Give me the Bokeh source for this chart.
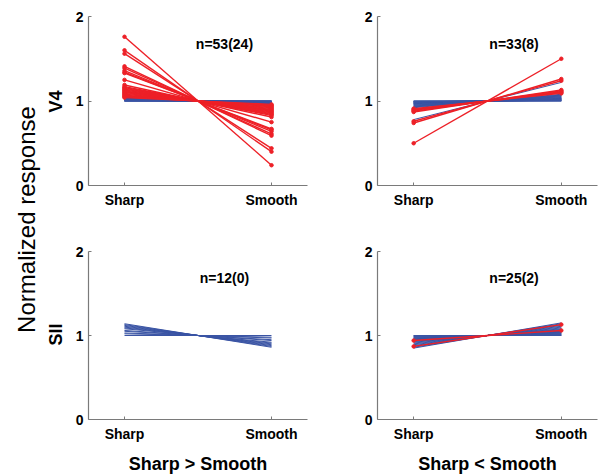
import math
from bokeh.plotting import figure
from bokeh.layouts import row, column
from bokeh.models import Range1d, FixedTicker, Label
from bokeh.embed import file_html
from bokeh.resources import INLINE

# ---------------- data ----------------
conditions = ["Sharp", "Smooth"]
cond_pos = [1, 2]
y_ticks = [0, 1, 2]
areas = ["V4", "SII"]
group_labels = ["Sharp > Smooth", "Sharp < Smooth"]
n_labels = ["n=53(24)", "n=33(8)", "n=12(0)", "n=25(2)"]

# V4, Sharp > Smooth
v4_pref_sharp_red_sharp = [1.76, 1.60, 1.56, 1.41, 1.39, 1.36, 1.34, 1.33, 1.25, 1.19, 1.17, 1.16,
                           1.15, 1.14, 1.13, 1.12, 1.11, 1.10, 1.09, 1.08, 1.07, 1.06, 1.05, 1.04]
v4_pref_sharp_red_smooth = [0.24, 0.40, 0.44, 0.59, 0.61, 0.64, 0.66, 0.67, 0.75, 0.81, 0.83, 0.84,
                            0.85, 0.86, 0.87, 0.88, 0.89, 0.90, 0.91, 0.92, 0.93, 0.94, 0.95, 0.96]
v4_pref_sharp_blue_sharp = [1.11, 1.06, 1.05, 1.045, 1.04, 1.035, 1.03, 1.03, 1.025, 1.025,
                            1.02, 1.02, 1.02, 1.015, 1.015, 1.01, 1.01, 1.01, 1.008, 1.005,
                            1.005, 1.003, 1.002, 1.0, 1.0, 1.0, 1.028, 1.018, 1.012]
v4_pref_sharp_blue_smooth = [0.89, 0.94, 0.95, 0.955, 0.96, 0.965, 0.97, 0.97, 0.975, 0.975,
                             0.98, 0.98, 0.98, 0.985, 0.985, 0.99, 0.99, 0.99, 0.992, 0.995,
                             0.995, 0.997, 0.998, 1.0, 1.0, 1.0, 0.972, 0.982, 0.988]

# V4, Sharp < Smooth
v4_pref_smooth_red_sharp = [0.50, 0.74, 0.76, 0.87, 0.88, 0.89, 0.90, 0.91]
v4_pref_smooth_red_smooth = [1.50, 1.26, 1.24, 1.13, 1.12, 1.11, 1.10, 1.09]
v4_pref_smooth_blue_sharp = [0.78, 0.90, 0.92, 0.93, 0.94, 0.95, 0.95, 0.96, 0.96, 0.97, 0.97, 0.97,
                             0.98, 0.98, 0.98, 0.985, 0.99, 0.99, 0.99, 0.995, 0.995, 1.0, 1.0, 0.93, 0.94]
v4_pref_smooth_blue_smooth = [1.22, 1.10, 1.08, 1.07, 1.06, 1.05, 1.05, 1.04, 1.04, 1.03, 1.03, 1.03,
                              1.02, 1.02, 1.02, 1.015, 1.01, 1.01, 1.01, 1.005, 1.005, 1.0, 1.0, 1.07, 1.06]

# SII, Sharp > Smooth
sii_pref_sharp_red_sharp = []
sii_pref_sharp_red_smooth = []
sii_pref_sharp_blue_sharp = [1.14, 1.13, 1.12, 1.11, 1.10, 1.09, 1.08, 1.06, 1.05, 1.03, 1.02, 1.00]
sii_pref_sharp_blue_smooth = [0.86, 0.87, 0.88, 0.89, 0.90, 0.91, 0.92, 0.94, 0.95, 0.97, 0.98, 1.00]

# SII, Sharp < Smooth
sii_pref_smooth_red_sharp = [0.87, 0.94]
sii_pref_smooth_red_smooth = [1.13, 1.06]
sii_pref_smooth_blue_sharp = [0.85, 0.86, 0.87, 0.88, 0.89, 0.90, 0.91, 0.92, 0.93, 0.94, 0.95, 0.96,
                              0.96, 0.97, 0.97, 0.98, 0.98, 0.99, 0.99, 1.0, 1.0, 0.95, 0.93]
sii_pref_smooth_blue_smooth = [1.15, 1.14, 1.13, 1.12, 1.11, 1.10, 1.09, 1.08, 1.07, 1.06, 1.05, 1.04,
                               1.04, 1.03, 1.03, 1.02, 1.02, 1.01, 1.01, 1.0, 1.0, 1.05, 1.07]

# ---------------- style ----------------
RED = "#ED2027"
BLUE = "#3A54A4"
AXIS = "#7a7a7a"
FONT = "Liberation Sans"
LEFT_W = 72


def make_panel(blue_s, blue_m, red_s, red_m, ntext, frame_w, frame_h,
               b_left, b_right, b_top, b_bottom, xlabel=None):
    p = figure(frame_width=frame_w, frame_height=frame_h,
               x_range=Range1d(0.755, 2.245), y_range=Range1d(0, 2),
               output_backend="svg", toolbar_location=None,
               min_border_left=b_left, min_border_right=b_right,
               min_border_top=b_top, min_border_bottom=b_bottom)
    p.outline_line_color = None
    p.xgrid.visible = False
    p.ygrid.visible = False
    p.background_fill_color = "white"
    p.border_fill_color = "white"

    if blue_s:
        p.multi_line(xs=[list(cond_pos) for _ in blue_s],
                     ys=[[a, b] for a, b in zip(blue_s, blue_m)],
                     line_color=BLUE, line_width=1.0)
    if red_s:
        p.multi_line(xs=[list(cond_pos) for _ in red_s],
                     ys=[[a, b] for a, b in zip(red_s, red_m)],
                     line_color=RED, line_width=1.4)
        p.scatter(x=[cond_pos[0]] * len(red_s) + [cond_pos[1]] * len(red_m),
                  y=list(red_s) + list(red_m), size=3.5,
                  fill_color=RED, line_color=RED)

    p.add_layout(Label(x=1.68, y=1.68, text=ntext, text_font=FONT,
                       text_font_style="bold", text_font_size="14px",
                       text_align="center", text_baseline="middle",
                       text_color="black"))

    for ax in (p.xaxis[0], p.yaxis[0]):
        ax.axis_line_color = AXIS
        ax.axis_line_width = 1.2
        ax.major_tick_line_color = AXIS
        ax.major_tick_in = 3
        ax.major_tick_out = 0
        ax.minor_tick_line_color = None
        ax.major_label_text_font = FONT
        ax.major_label_text_font_style = "bold"
        ax.major_label_text_font_size = "14px"
        ax.major_label_text_color = "black"

    p.xaxis.ticker = FixedTicker(ticks=cond_pos)
    p.xaxis.major_label_overrides = {cond_pos[0]: conditions[0], cond_pos[1]: conditions[1]}
    p.xaxis.major_label_standoff = 6
    p.yaxis.ticker = FixedTicker(ticks=y_ticks)
    p.yaxis.major_label_standoff = 5

    if xlabel:
        p.xaxis.axis_label = xlabel
        p.xaxis.axis_label_text_font = FONT
        p.xaxis.axis_label_text_font_style = "bold"
        p.xaxis.axis_label_text_font_size = "18px"
        p.xaxis.axis_label_text_color = "black"
        p.xaxis.axis_label_standoff = 9
    return p


p1 = make_panel(v4_pref_sharp_blue_sharp, v4_pref_sharp_blue_smooth,
                v4_pref_sharp_red_sharp, v4_pref_sharp_red_smooth, n_labels[0],
                219, 169, 87 - LEFT_W, 24, 16, 45)
p2 = make_panel(v4_pref_smooth_blue_sharp, v4_pref_smooth_blue_smooth,
                v4_pref_smooth_red_sharp, v4_pref_smooth_red_smooth, n_labels[1],
                220, 169, 46, 3, 16, 45)
p3 = make_panel(sii_pref_sharp_blue_sharp, sii_pref_sharp_blue_smooth,
                sii_pref_sharp_red_sharp, sii_pref_sharp_red_smooth, n_labels[2],
                219, 168, 87 - LEFT_W, 24, 21, 55, xlabel=group_labels[0])
p4 = make_panel(sii_pref_smooth_blue_sharp, sii_pref_smooth_blue_smooth,
                sii_pref_smooth_red_sharp, sii_pref_smooth_red_smooth, n_labels[3],
                220, 168, 46, 3, 21, 55, xlabel=group_labels[1])

# left strip with the shared labels
left = figure(width=LEFT_W, height=474, x_range=Range1d(0, LEFT_W), y_range=Range1d(0, 474),
              output_backend="svg", toolbar_location=None,
              min_border_left=0, min_border_right=0, min_border_top=0, min_border_bottom=0)
left.axis.visible = False
left.grid.visible = False
left.outline_line_color = None
left.border_fill_color = "white"
left.background_fill_color = "white"
left.add_layout(Label(x=26, y=474 - 219, text="Normalized response", angle=math.pi / 2,
                      text_font=FONT, text_font_size="24px", text_align="center",
                      text_baseline="middle", text_color="black"))
left.add_layout(Label(x=55, y=474 - 101, text=areas[0], angle=math.pi / 2,
                      text_font=FONT, text_font_style="bold", text_font_size="18px",
                      text_align="center", text_baseline="middle", text_color="black"))
left.add_layout(Label(x=55, y=474 - 334, text=areas[1], angle=math.pi / 2,
                      text_font=FONT, text_font_style="bold", text_font_size="18px",
                      text_align="center", text_baseline="middle", text_color="black"))

layout = row(left, column(row(p1, p2), row(p3, p4)))

open("out.html", "w").write(file_html(layout, INLINE))
